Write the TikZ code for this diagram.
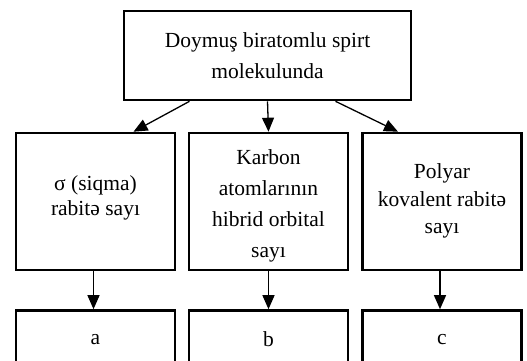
\documentclass[tikz,border=0pt]{standalone}
\usepackage{fontspec}
\setmainfont{Liberation Serif}
\usetikzlibrary{arrows.meta,positioning}

\begin{document}
\begin{tikzpicture}[x=1pt,y=1pt,node distance=146pt,on grid,
        box/.style={draw,line width=2.6pt,align=center,inner sep=2pt,
            minimum width=159pt,minimum height=137pt,
            font=\fontsize{21.5}{29.5}\selectfont},
        arr/.style={-{Triangle[width=12pt,length=14pt]},line width=1.3pt}]
        \useasboundingbox (0,0) rectangle (527,-361);
        \clip (0,0) rectangle (527,-361);
        \node[box, minimum width=287pt, minimum height=89pt,
            font=\fontsize{21.5}{31}\selectfont] (top) at (267.5,-55.5)
            {Doymuş biratomlu spirt\\molekulunda};
        \node[box] (sigma)  [below=of top, xshift=-172pt] {σ (siqma)\\[-4pt]rabitə sayı\rule[-12pt]{0pt}{0pt}};
        \node[box, font=\fontsize{21.5}{31}\selectfont] (hibrid) [below=of top, xshift=1pt]
            {\rule{0pt}{24pt}Karbon\\atomlarının\\hibrid orbital\\sayı};
        \node[box] (polyar) [below=of top, xshift=174.5pt] {Polyar\\[-2pt]kovalent rabitə\\[-2pt]sayı\rule[-5pt]{0pt}{0pt}};
        \node[box, minimum height=58pt] (a) [below=138pt of sigma] {a};
        \node[box, minimum height=58pt] (b) [below=138pt of hibrid] {b};
        \node[box, minimum height=58pt] (c) [below=138pt of polyar] {c};
        \draw[arr] ([xshift=-78pt]top.south) -- ([xshift=38pt]sigma.north);
        \draw[arr] (top.south) -- (hibrid.north);
        \draw[arr] ([xshift=68pt]top.south) -- ([xshift=-44pt]polyar.north);
        \draw[arr] ([xshift=-2pt]sigma.south) -- ([xshift=-2pt]a.north);
        \draw[arr] (hibrid.south) -- (b.north);
        \draw[arr] ([xshift=-2pt]polyar.south) -- ([xshift=-2pt]c.north);
    \end{tikzpicture}
\end{document}
